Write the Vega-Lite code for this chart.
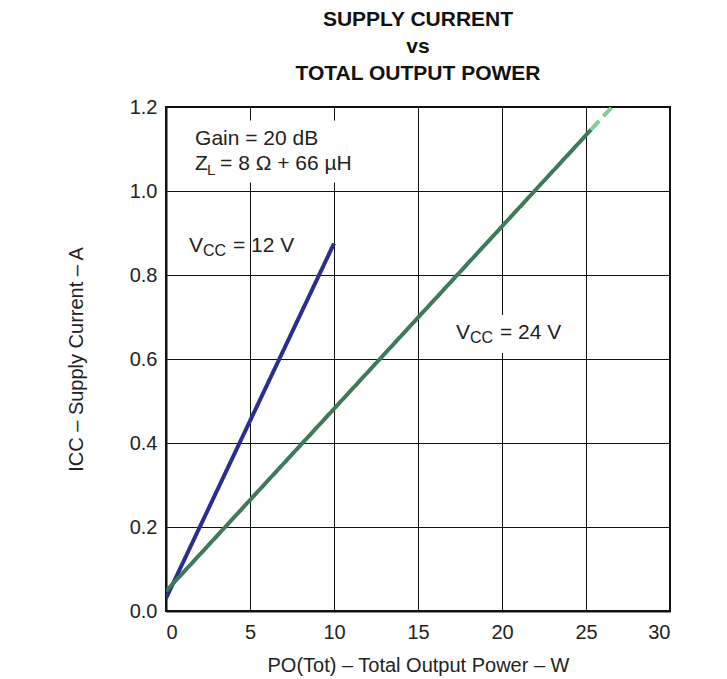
{
  "$schema": "https://vega.github.io/schema/vega-lite/v6.json",
  "width": 504,
  "height": 504,
  "padding": {"left": 66, "top": 9, "right": 5, "bottom": 5},
  "background": "white",
  "config": {
    "font": "Liberation Sans",
    "view": {"stroke": "#111", "strokeWidth": 2},
    "axis": {
      "grid": true, "gridColor": "#111", "gridWidth": 1, "gridOpacity": 1,
      "domainColor": "#111", "domainWidth": 2, "ticks": false,
      "labelFont": "Liberation Sans", "labelFontSize": 20, "labelColor": "#222",
      "titleFont": "Liberation Sans", "titleFontSize": 20, "titleFontWeight": "normal", "titleColor": "#222"
    }
  },
  "title": {
    "text": ["SUPPLY CURRENT", "vs", "TOTAL OUTPUT POWER"],
    "font": "Liberation Sans", "fontSize": 21, "fontWeight": "bold", "color": "#111",
    "lineHeight": 27, "anchor": "middle", "frame": "group", "offset": 13
  },
  "datasets": {
    "curves": [
      {"P": 0, "I": 0.03, "series": "12V"},
      {"P": 10, "I": 0.875, "series": "12V"},
      {"P": 0, "I": 0.047, "series": "24V"},
      {"P": 25.3, "I": 1.146, "series": "24V"},
      {"P": 25.3, "I": 1.146, "series": "24Vext"},
      {"P": 26.55, "I": 1.2, "series": "24Vext"}
    ],
    "boxes": [
      {"x1": 0.9, "x2": 11.9, "y1": 1.02, "y2": 1.168},
      {"x1": 16.8, "x2": 24.0, "y1": 0.614, "y2": 0.705}
    ],
    "labels": [
      {"x": 1.73, "y": 1.11, "piece": "main", "text": "Gain = 20 dB"},
      {"x": 1.73, "y": 1.05, "piece": "main", "text": "Z"},
      {"x": 1.73, "y": 1.05, "piece": "subZ", "text": "L"},
      {"x": 1.73, "y": 1.05, "piece": "restZ", "text": "= 8 Ω + 66 µH"},
      {"x": 1.37, "y": 0.855, "piece": "main", "text": "V"},
      {"x": 1.37, "y": 0.855, "piece": "subV", "text": "CC"},
      {"x": 1.37, "y": 0.855, "piece": "restV", "text": "= 12 V"},
      {"x": 17.26, "y": 0.647, "piece": "main", "text": "V"},
      {"x": 17.26, "y": 0.647, "piece": "subV", "text": "CC"},
      {"x": 17.26, "y": 0.647, "piece": "restV", "text": "= 24 V"}
    ]
  },
  "layer": [
    {
      "data": {"name": "boxes"},
      "mark": {"type": "rect", "fill": "white", "stroke": null},
      "encoding": {
        "x": {"field": "x1", "type": "quantitative",
              "scale": {"domain": [0, 30], "nice": false},
              "axis": {"values": [0, 5, 10, 15, 20, 25, 30], "labelPadding": 11,
                       "title": "PO(Tot) – Total Output Power – W", "titlePadding": 13}},
        "x2": {"field": "x2"},
        "y": {"field": "y1", "type": "quantitative",
              "scale": {"domain": [0, 1.2], "nice": false},
              "axis": {"values": [0, 0.2, 0.4, 0.6, 0.8, 1.0, 1.2], "format": ".1f", "labelPadding": 9,
                       "title": "ICC – Supply Current – A", "titlePadding": 43}},
        "y2": {"field": "y2"}
      }
    },
    {
      "data": {"name": "curves"},
      "mark": {"type": "line", "strokeWidth": 4, "clip": true},
      "encoding": {
        "x": {"field": "P", "type": "quantitative"},
        "y": {"field": "I", "type": "quantitative"},
        "detail": {"field": "series"},
        "color": {"field": "series", "type": "nominal", "legend": null,
                  "scale": {"domain": ["12V", "24V", "24Vext"], "range": ["#2b2d8f", "#3e7a5a", "#80cf9b"]}},
        "strokeDash": {"field": "series", "type": "nominal", "legend": null,
                  "scale": {"domain": ["12V", "24V", "24Vext"], "range": [[1, 0], [1, 0], [12, 6]]}}
      }
    },
    {
      "data": {"name": "labels"},
      "transform": [{"filter": "datum.piece === 'main'"}],
      "mark": {"type": "text", "align": "left", "baseline": "alphabetic", "fontSize": 21, "color": "#222", "font": "Liberation Sans"},
      "encoding": {
        "x": {"field": "x", "type": "quantitative"},
        "y": {"field": "y", "type": "quantitative"},
        "text": {"field": "text"}
      }
    },
    {
      "data": {"name": "labels"},
      "transform": [{"filter": "datum.piece === 'restZ'"}],
      "mark": {"type": "text", "align": "left", "baseline": "alphabetic", "fontSize": 21, "dx": 25, "color": "#222", "font": "Liberation Sans"},
      "encoding": {
        "x": {"field": "x", "type": "quantitative"},
        "y": {"field": "y", "type": "quantitative"},
        "text": {"field": "text"}
      }
    },
    {
      "data": {"name": "labels"},
      "transform": [{"filter": "datum.piece === 'restV'"}],
      "mark": {"type": "text", "align": "left", "baseline": "alphabetic", "fontSize": 21, "dx": 44, "color": "#222", "font": "Liberation Sans"},
      "encoding": {
        "x": {"field": "x", "type": "quantitative"},
        "y": {"field": "y", "type": "quantitative"},
        "text": {"field": "text"}
      }
    },
    {
      "data": {"name": "labels"},
      "transform": [{"filter": "datum.piece === 'subZ'"}],
      "mark": {"type": "text", "align": "left", "baseline": "alphabetic", "fontSize": 15, "dx": 12, "dy": 5, "color": "#222", "font": "Liberation Sans"},
      "encoding": {
        "x": {"field": "x", "type": "quantitative"},
        "y": {"field": "y", "type": "quantitative"},
        "text": {"field": "text"}
      }
    },
    {
      "data": {"name": "labels"},
      "transform": [{"filter": "datum.piece === 'subV'"}],
      "mark": {"type": "text", "align": "left", "baseline": "alphabetic", "fontSize": 16, "dx": 14, "dy": 4, "color": "#222", "font": "Liberation Sans"},
      "encoding": {
        "x": {"field": "x", "type": "quantitative"},
        "y": {"field": "y", "type": "quantitative"},
        "text": {"field": "text"}
      }
    }
  ]
}
